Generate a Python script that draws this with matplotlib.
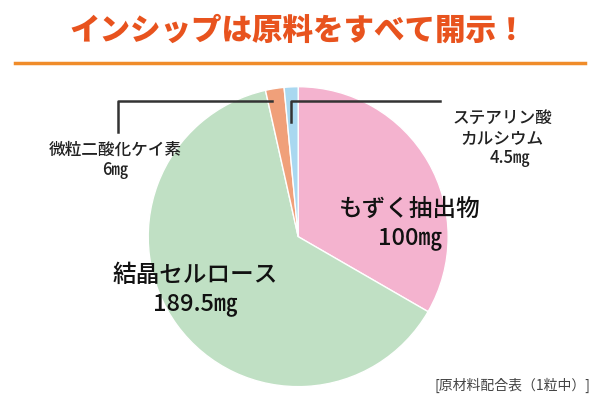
import matplotlib.pyplot as plt

plt.rcParams['font.family'] = ['Noto Sans CJK JP', 'DejaVu Sans']

labels = ['もずく抽出物', '結晶セルロース', '微粒二酸化ケイ素', 'ステアリン酸\nカルシウム']
values = [100, 189.5, 6, 4.5]
amounts = ['100㎎', '189.5㎎', '6㎎', '4.5㎎']
colors = ['#f4b3cf', '#c0e0c4', '#f0a07a', '#a9d8f0']

fig = plt.figure(figsize=(6, 4.07), dpi=100)
fig.patch.set_facecolor('white')

ax = fig.add_axes([0.247, 0.05, 0.5, 0.737])
ax.pie(values, colors=colors, startangle=90, counterclock=False,
       wedgeprops=dict(edgecolor='white', linewidth=1))
ax.set_xlim(-1, 1)
ax.set_ylim(-1, 1)
ax.set_aspect('equal')

# overlay in pixel coordinates
ov = fig.add_axes([0, 0, 1, 1], zorder=5)
ov.set_xlim(0, 600)
ov.set_ylim(407, 0)
ov.axis('off')

ov.text(298, 30, 'インシップは原料をすべて開示！', color='#e8531e', fontsize=22,
        fontweight='heavy', ha='center', va='center')
ov.plot([15, 585], [63, 63], color='#f08c2a', lw=2.5)

ov.plot([118, 118, 272], [132, 101, 101], color='#333333', lw=1.8)
ov.plot([291, 291, 440], [122, 101, 101], color='#333333', lw=1.8)

ov.text(115, 160, labels[2] + '\n' + amounts[2], fontsize=12, ha='center',
        va='center', linespacing=1.2, color='#222222', fontweight='medium')
ov.text(502, 128, 'ステアリン酸\nカルシウム', fontsize=12, ha='center',
        va='center', linespacing=1.2, color='#222222', fontweight='medium')
ov.text(510, 158, amounts[3], fontsize=12, ha='center', va='center',
        color='#222222', fontweight='medium')
ov.text(410, 224, labels[0] + '\n' + amounts[0], fontsize=17, ha='center',
        va='center', linespacing=1.3, color='#111111', fontweight='medium')
ov.text(195, 290, labels[1] + '\n' + amounts[1], fontsize=17, ha='center',
        va='center', linespacing=1.3, color='#111111', fontweight='medium')
ov.text(590, 385, '[原材料配合表（1粒中）]', fontsize=10, ha='right', va='center',
        color='#444444')

fig.savefig('out.png', dpi=100)
